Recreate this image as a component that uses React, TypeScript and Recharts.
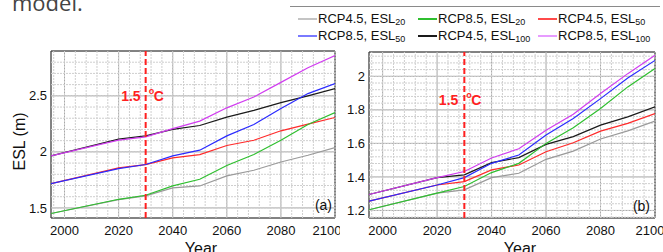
import {
  LineChart,
  Line,
  XAxis,
  YAxis,
  CartesianGrid,
  ReferenceLine,
  ReferenceArea
} from "recharts";

// years at which the projections are plotted
const YEARS = [1995, 2020, 2030, 2040, 2050, 2060, 2070, 2080, 2090, 2100];

// panel (a)
const A_RCP45_ESL20 = [1.45, 1.574, 1.607, 1.679, 1.696, 1.786, 1.836, 1.91, 1.97, 2.039];
const A_RCP85_ESL20 = [1.45, 1.577, 1.613, 1.696, 1.756, 1.878, 1.976, 2.104, 2.244, 2.351];
const A_RCP45_ESL50 = [1.717, 1.857, 1.887, 1.946, 1.976, 2.057, 2.104, 2.188, 2.247, 2.307];
const A_RCP85_ESL50 = [1.717, 1.851, 1.887, 1.964, 2.015, 2.143, 2.244, 2.387, 2.52, 2.61];
const A_RCP45_ESL100 = [1.964, 2.113, 2.143, 2.2, 2.235, 2.31, 2.37, 2.44, 2.5, 2.565];
const A_RCP85_ESL100 = [1.964, 2.104, 2.134, 2.208, 2.274, 2.393, 2.49, 2.62, 2.75, 2.86];

// panel (b)
const B_RCP45_ESL20 = [1.204, 1.303, 1.323, 1.396, 1.422, 1.505, 1.554, 1.626, 1.675, 1.733];
const B_RCP85_ESL20 = [1.204, 1.303, 1.343, 1.426, 1.481, 1.6, 1.693, 1.808, 1.937, 2.046];
const B_RCP45_ESL50 = [1.255, 1.352, 1.372, 1.442, 1.471, 1.55, 1.604, 1.673, 1.719, 1.778];
const B_RCP85_ESL50 = [1.255, 1.352, 1.396, 1.481, 1.531, 1.65, 1.749, 1.867, 1.99, 2.095];
const B_RCP45_ESL100 = [1.295, 1.396, 1.412, 1.485, 1.515, 1.594, 1.64, 1.709, 1.758, 1.818];
const B_RCP85_ESL100 = [1.295, 1.396, 1.432, 1.513, 1.568, 1.679, 1.774, 1.897, 2.016, 2.125];

const X_TICKS = [2000, 2020, 2040, 2060, 2080, 2100];
const A_Y_TICKS = [1.5, 2, 2.5];
const B_Y_TICKS = [1.2, 1.4, 1.6, 1.8, 2];
const THRESHOLD_YEAR = 2030;

// legend order (row by row)
const SERIES = [
  { key: "rcp45_20", scen: "RCP4.5", esl: "20", color: "#9a9a9a", legend: "#c4c4c4" },
  { key: "rcp85_20", scen: "RCP8.5", esl: "20", color: "#2fbf2f", legend: "#2fbf2f" },
  { key: "rcp45_50", scen: "RCP4.5", esl: "50", color: "#ff2a2a", legend: "#ff4a4a" },
  { key: "rcp85_50", scen: "RCP8.5", esl: "50", color: "#2a2aff", legend: "#7a7aff" },
  { key: "rcp45_100", scen: "RCP4.5", esl: "100", color: "#1a1a1a", legend: "#1a1a1a" },
  { key: "rcp85_100", scen: "RCP8.5", esl: "100", color: "#d13cf0", legend: "#e79cff" }
];
// RCP8.5 drawn on top
const DRAW_ORDER = ["rcp45_20", "rcp45_50", "rcp45_100", "rcp85_20", "rcp85_50", "rcp85_100"];

const FONT = "'Liberation Sans', Arial, sans-serif";

const buildRows = (cols: Record<string, number[]>) =>
  YEARS.map((year, i) => {
    const row: Record<string, number> = { year };
    Object.keys(cols).forEach((k) => (row[k] = cols[k][i]));
    return row;
  });

const dataA = buildRows({
  rcp45_20: A_RCP45_ESL20,
  rcp85_20: A_RCP85_ESL20,
  rcp45_50: A_RCP45_ESL50,
  rcp85_50: A_RCP85_ESL50,
  rcp45_100: A_RCP45_ESL100,
  rcp85_100: A_RCP85_ESL100
});

const dataB = buildRows({
  rcp45_20: B_RCP45_ESL20,
  rcp85_20: B_RCP85_ESL20,
  rcp45_50: B_RCP45_ESL50,
  rcp85_50: B_RCP85_ESL50,
  rcp45_100: B_RCP45_ESL100,
  rcp85_100: B_RCP85_ESL100
});

const steps = (from: number, to: number, step: number) => {
  const out: number[] = [];
  const n = Math.round((to - from) / step);
  for (let i = 0; i <= n; i++) out.push(Math.round((from + i * step) * 1000) / 1000);
  return out;
};

const thresholdLabel = (baseY: number, gapL: number, gapR: number) => (props: any) => {
  const vb = props.viewBox || {};
  const x = vb.x ?? 0;
  return (
    <g fontFamily={FONT} fontWeight="bold" fill="#ff1f1f">
      <text x={x - gapL} y={baseY} fontSize={14} textAnchor="end">
        1.5
      </text>
      <text x={x + gapR} y={baseY - 7} fontSize={9}>
        o
      </text>
      <text x={x + gapR + 5} y={baseY} fontSize={14}>
        C
      </text>
    </g>
  );
};

interface PanelProps {
  data: Record<string, number>[];
  width: number;
  yDomain: [number, number];
  yTicks: number[];
  yMinor: number[];
  yAxisWidth: number;
  top: number;
  right: number;
  tag: string;
  tagDy: number;
  tagOffset: number;
  labelBase: number;
  labelGapL: number;
  labelGapR: number;
  yLabel?: boolean;
}

const X_MINOR = steps(1996, 2100, 4);

function Panel(p: PanelProps) {
  return (
    <LineChart
      width={p.width}
      height={252}
      data={p.data}
      margin={{ top: p.top, right: p.right, bottom: 0, left: 0 }}
      style={{ fontFamily: FONT }}
    >
      {X_MINOR.map((v) => (
        <ReferenceLine key={"vx" + v} x={v} stroke="#cfcfcf" strokeDasharray="2 1" />
      ))}
      {p.yMinor.map((v) => (
        <ReferenceLine key={"hy" + v} y={v} stroke="#cfcfcf" strokeDasharray="2 1" />
      ))}
      <CartesianGrid stroke="#a8a8a8" />
      <XAxis
        dataKey="year"
        type="number"
        domain={[1995, 2100]}
        ticks={X_TICKS}
        allowDataOverflow
        height={34}
        tickLine={false}
        axisLine={false}
        tickSize={0}
        tickMargin={8}
        tick={{ fill: "#111", fontSize: 13 }}
        label={{ value: "Year", position: "insideBottom", offset: -2, dx: 8, fontSize: 16, fill: "#111" }}
      />
      <YAxis
        type="number"
        domain={p.yDomain}
        ticks={p.yTicks}
        allowDataOverflow
        width={p.yAxisWidth}
        tickLine={false}
        axisLine={false}
        tickSize={0}
        tickMargin={4}
        tick={{ fill: "#111", fontSize: 13 }}
        label={
          p.yLabel
            ? { value: "ESL (m)", angle: -90, position: "center", dx: -6, dy: 7, fontSize: 16, fill: "#111" }
            : undefined
        }
      />
      {DRAW_ORDER.map((k) => {
        const s = SERIES.find((x) => x.key === k)!;
        return (
          <Line
            key={k}
            dataKey={k}
            stroke={s.color}
            strokeWidth={1.2}
            dot={false}
            isAnimationActive={false}
          />
        );
      })}
      <ReferenceLine
        x={THRESHOLD_YEAR}
        stroke="#ff2020"
        strokeWidth={2}
        strokeDasharray="6 3"
        label={thresholdLabel(p.labelBase, p.labelGapL, p.labelGapR)}
      />
      <ReferenceArea
        x1={1995}
        x2={2100}
        y1={p.yDomain[0]}
        y2={p.yDomain[1]}
        fill="none"
        stroke="#333"
        strokeWidth={1}
        label={{ value: p.tag, position: "insideBottomRight", offset: p.tagOffset, dy: p.tagDy, fontSize: 14, fill: "#111" }}
      />
    </LineChart>
  );
}

function LegendBox() {
  return (
    <div
      style={{
        position: "absolute",
        left: 290,
        top: 6,
        width: 370,
        borderTop: "1.5px solid #8a8a8a",
        fontFamily: FONT,
        fontSize: 13,
        color: "#111"
      }}
    >
      <div style={{ display: "flex", flexWrap: "wrap", paddingLeft: 8, paddingTop: 3 }}>
        {SERIES.map((s) => (
          <div
            key={s.key}
            style={{ width: 120, height: 17, display: "flex", alignItems: "center", whiteSpace: "nowrap" }}
          >
            <span
              style={{ display: "inline-block", width: 19, height: 2, background: s.legend, marginRight: 1 }}
            />
            <span>
              {s.scen}, ESL<span style={{ fontSize: 9, position: "relative", top: 2 }}>{s.esl}</span>
            </span>
          </div>
        ))}
      </div>
    </div>
  );
}

export default function App() {
  return (
    <div
      style={{
        position: "absolute",
        left: 0,
        top: 0,
        width: 663,
        height: 252,
        overflow: "hidden",
        background: "#fff"
      }}
    >
      <div
        style={{
          position: "absolute",
          left: 12,
          top: -13,
          fontFamily: "'Open Sans', sans-serif",
          fontSize: 22,
          color: "#444"
        }}
      >
        model.
      </div>
      <LegendBox />
      <div style={{ position: "absolute", left: 0, top: 0 }}>
        <Panel
          data={dataA}
          width={340}
          yDomain={[1.41, 2.9]}
          yTicks={A_Y_TICKS}
          yMinor={steps(1.5, 2.8, 0.1)}
          yAxisWidth={51}
          top={51}
          right={5}
          tag="(a)"
          tagOffset={3}
          tagDy={-5}
          labelBase={101}
          labelGapL={5}
          labelGapR={3}
          yLabel
        />
      </div>
      <div style={{ position: "absolute", left: 330, top: 0 }}>
        <Panel
          data={dataB}
          width={333}
          yDomain={[1.155, 2.145]}
          yTicks={B_Y_TICKS}
          yMinor={steps(1.16, 2.12, 0.04)}
          yAxisWidth={39}
          top={52}
          right={8}
          tag="(b)"
          tagOffset={5}
          tagDy={-2}
          labelBase={105}
          labelGapL={6}
          labelGapR={2}
        />
      </div>
    </div>
  );
}
